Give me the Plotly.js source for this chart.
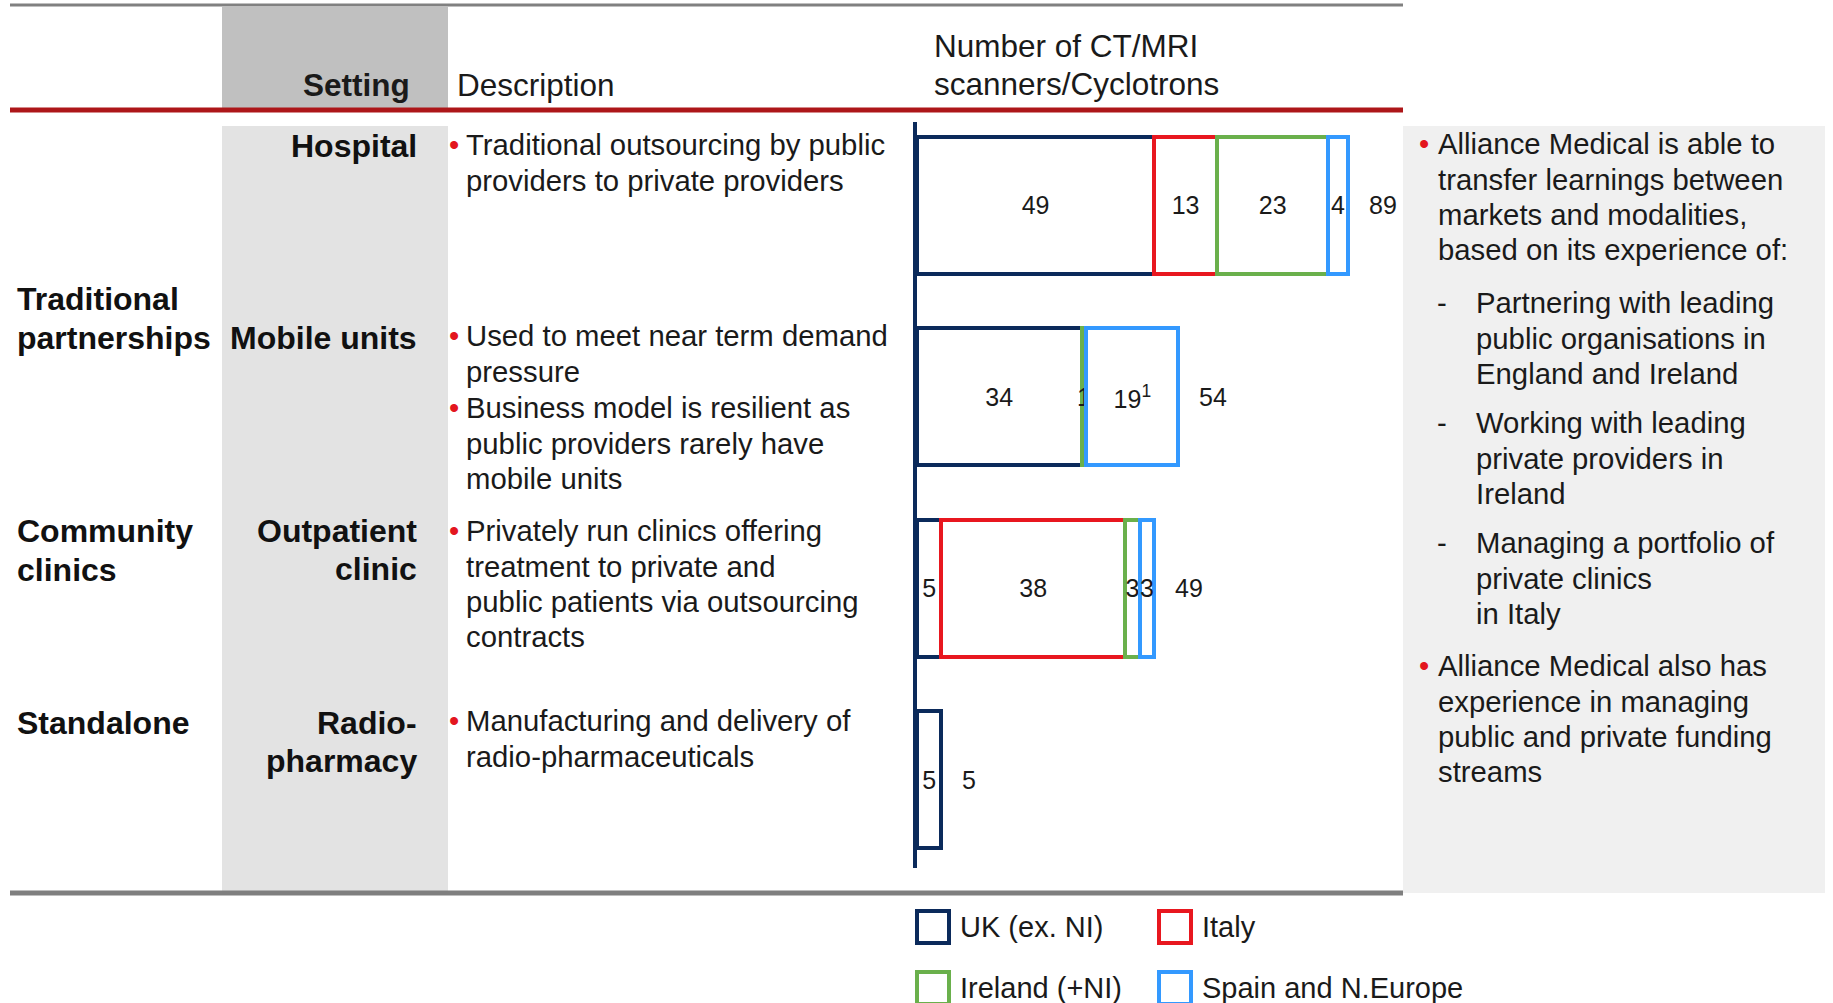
<!DOCTYPE html>
<html><head><meta charset="utf-8">
<script src="https://cdn.plot.ly/plotly-3.0.1.min.js"></script>
<style>html,body{margin:0;padding:0;background:#fff;overflow:hidden}#chart{width:1833px;height:1003px}</style>
</head><body><div id="chart"></div>
<script>
// ---------- data ----------
const categories = ['Hospital', 'Mobile units', 'Outpatient clinic', 'Radio-pharmacy'];
const seriesNames = ['UK (ex. NI)', 'Italy', 'Ireland (+NI)', 'Spain and N.Europe'];
const ukValues = [49, 34, 5, 5];
const italyValues = [13, 0, 38, 0];
const irelandValues = [23, 1, 3, 0];
const spainValues = [4, 19, 3, 0];
const spainFootnotes = ['', '1', '', ''];
const totals = [89, 54, 49, 5];

const headerTexts = {setting: 'Setting', description: 'Description', chart: ['Number of CT/MRI', 'scanners/Cyclotrons']};
const groupLabels = [['Traditional', 'partnerships'], ['Community', 'clinics'], ['Standalone']];
const settingLabels = [['Hospital'], ['Mobile units'], ['Outpatient', 'clinic'], ['Radio-', 'pharmacy']];
const descriptions = [
  [['Traditional outsourcing by public', 'providers to private providers']],
  [['Used to meet near term demand', 'pressure'], ['Business model is resilient as', 'public providers rarely have', 'mobile units']],
  [['Privately run clinics offering', 'treatment to private and', 'public patients via outsourcing', 'contracts']],
  [['Manufacturing and delivery of', 'radio-pharmaceuticals']]
];
const sideBlocks = [
  {type: 'bullet', lines: ['Alliance Medical is able to', 'transfer learnings between', 'markets and modalities,', 'based on its experience of:']},
  {type: 'dash', lines: ['Partnering with leading', 'public organisations in', 'England and Ireland']},
  {type: 'dash', lines: ['Working with leading', 'private providers in', 'Ireland']},
  {type: 'dash', lines: ['Managing a portfolio of', 'private clinics', 'in Italy']},
  {type: 'bullet', lines: ['Alliance Medical also has', 'experience in managing', 'public and private funding', 'streams']}
];

// ---------- styles / layout helpers ----------
const W = 1833, H = 1003;
const FONT = '"Liberation Sans", Arial, Helvetica, sans-serif';
const colors = ['#0b2a5b', '#e8171f', '#6ab04c', '#3399ff'];
const TEXT = '#1a1a1a';
const BULLET = '#e3161e';
const BODY = 29.3, HEAD = 32;
const px = x => x / W;
const py = y => 1 - y / H;

function line(text, x, base, o) {
  o = o || {};
  const fs = o.size || BODY;
  const anchor = o.anchor || 'left';
  const dx = anchor === 'left' ? -2 : (anchor === 'right' ? 2 : 0);
  return {
    xref: 'paper', yref: 'paper', x: px(x + dx), y: py(base - 0.35 * fs),
    xanchor: anchor, yanchor: 'middle', showarrow: false,
    text: o.bold ? '<b>' + text + '</b>' : text,
    font: {family: FONT, size: fs, color: o.color || TEXT}
  };
}

const annotations = [];
const shapes = [];

function rect(x0, y0, x1, y1, fill, layer) {
  shapes.push({type: 'rect', xref: 'paper', yref: 'paper', x0: px(x0), x1: px(x1), y0: py(y1), y1: py(y0),
    fillcolor: fill, line: {width: 0}, layer: layer || 'below'});
}
function hline(x0, x1, y, color, width) {
  shapes.push({type: 'line', xref: 'paper', yref: 'paper', x0: px(x0), x1: px(x1), y0: py(y), y1: py(y),
    line: {color: color, width: width}, layer: 'below'});
}

// backgrounds and rules
rect(222, 7, 448, 108, '#c0c0c0');
rect(222, 126, 448, 891, '#e3e3e3');
rect(1403, 126, 1825, 893, '#f0f0f0');
hline(10, 1403, 5, '#808080', 3);
hline(10, 1403, 110, '#ad1619', 5);
hline(10, 1403, 893, '#7f7f7f', 5);

// headers
annotations.push(line(headerTexts.setting, 410, 96, {size: 31.5, bold: true, anchor: 'right'}));
annotations.push(line(headerTexts.description, 457, 96, {size: 31.5}));
headerTexts.chart.forEach((t, i) => annotations.push(line(t, 934, 57 + i * 38, {size: 31.5})));

// group labels
const groupBase = [310, 542, 734];
groupLabels.forEach((g, gi) => g.forEach((t, li) =>
  annotations.push(line(t, 17, groupBase[gi] + li * 39, {size: HEAD, bold: true, color: '#111'}))));

// setting labels
const settingBase = [157, 349, 542, 734];
settingLabels.forEach((g, gi) => g.forEach((t, li) =>
  annotations.push(line(t, 417, settingBase[gi] + li * 38.5, {size: HEAD, bold: true, anchor: 'right', color: '#111'}))));

// descriptions
const descBase = [[155], [346], [541], [731]];
descBase[1].push(418);
const LS = 35.3;
descriptions.forEach((paras, ri) => paras.forEach((p, pi) => {
  const b0 = descBase[ri][pi];
  annotations.push(line('•', 449, b0, {color: BULLET}));
  p.forEach((t, li) => annotations.push(line(t, 466, b0 + li * LS)));
}));

// side panel
const sideBase = [154, 313, 433, 553, 676];
sideBlocks.forEach((blk, bi) => {
  const b0 = sideBase[bi];
  if (blk.type === 'bullet') {
    annotations.push(line('•', 1419, b0, {color: BULLET}));
    blk.lines.forEach((t, li) => annotations.push(line(t, 1437.5, b0 + li * LS)));
  } else {
    annotations.push(line('-', 1437, b0));
    blk.lines.forEach((t, li) => annotations.push(line(t, 1475.5, b0 + li * LS)));
  }
});

// totals (data coordinates)
totals.forEach((t, i) => annotations.push({
  xref: 'x', yref: 'y', x: t, y: categories[i], xanchor: 'left', yanchor: 'middle', xshift: 19,
  text: String(t), showarrow: false, font: {family: FONT, size: 25, color: TEXT}
}));

// legend (manual, 2 x 2)
const legPos = [[917, 911], [1159, 911], [917, 972], [1159, 972]];
seriesNames.forEach((name, i) => {
  const [lx, ly] = legPos[i];
  shapes.push({type: 'rect', xref: 'paper', yref: 'paper', x0: px(lx), x1: px(lx + 32), y0: py(ly + 32), y1: py(ly),
    fillcolor: 'rgba(255,255,255,0)', line: {color: colors[i], width: 4}, layer: 'above'});
  annotations.push(line(name, 960 + (lx - 917), ly + 26, {size: 29}));
});

// ---------- traces (zero-size segments are left out) ----------
const seriesValues = [ukValues, italyValues, irelandValues, spainValues];
const traces = seriesValues.map((vals, si) => {
  const idx = vals.map((v, i) => i).filter(i => vals[i] > 0);
  return {
    type: 'bar', orientation: 'h', name: seriesNames[si],
    y: idx.map(i => categories[i]), x: idx.map(i => vals[i]),
    text: idx.map(i => String(vals[i]) + (si === 3 && spainFootnotes[i] ? '<sup>' + spainFootnotes[i] + '</sup>' : '')),
    textposition: 'inside', insidetextanchor: 'middle', textangle: 0, constraintext: 'none',
    textfont: {family: FONT, size: 25, color: TEXT},
    marker: {color: '#ffffff', line: {color: colors[si], width: 4}},
    hoverinfo: 'skip', showlegend: false, cliponaxis: false
  };
});

const layout = {
  width: W, height: H, margin: {l: 0, r: 0, t: 0, b: 0},
  paper_bgcolor: '#ffffff', plot_bgcolor: 'rgba(0,0,0,0)',
  barmode: 'stack', bargap: 0.284, showlegend: false,
  font: {family: FONT, color: TEXT},
  xaxis: {domain: [px(917), px(1401)], range: [0, 100], visible: false, fixedrange: true},
  yaxis: {domain: [py(868), py(122)], type: 'category', categoryorder: 'array', categoryarray: categories,
    range: [3.462, -0.436],
    showline: true, linecolor: colors[0], linewidth: 4, showticklabels: false, ticks: '',
    showgrid: false, zeroline: false, fixedrange: true},
  shapes: shapes, annotations: annotations
};

Plotly.newPlot('chart', traces, layout, {staticPlot: true, displayModeBar: false});
</script>
</body></html>
